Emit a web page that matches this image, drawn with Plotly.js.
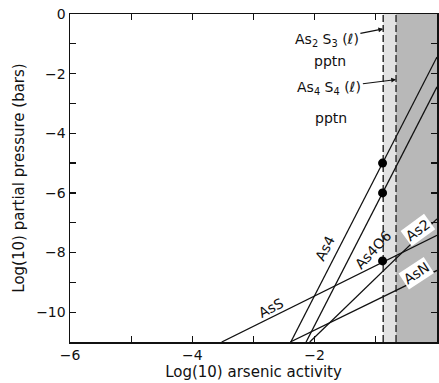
<!DOCTYPE html>
<html>
<head>
<meta charset="utf-8">
<script src="https://cdn.plot.ly/plotly-3.0.1.min.js"></script>
<style>html,body{margin:0;padding:0;background:#fff;}#chart{width:439px;height:383px;}</style>
</head>
<body>
<div id="chart"></div>
<script>
// Species lines (log10 arsenic activity vs log10 partial pressure)
const asS_x = [-3.52, 0];      const asS_y = [-11, -7.42];
const as4_x = [-2.39, 0];      const as4_y = [-11, -1.44];
const as4o6_x = [-2.14, 0];    const as4o6_y = [-11, -2.44];
const as2_x = [-2.08, 0];      const as2_y = [-11, -6.87];
const asN_x = [-2.40, 0];      const asN_y = [-11, -8.6];
// Precipitation points on As2S3(l) boundary
const dot_x = [-0.89, -0.89, -0.89];
const dot_y = [-5, -6, -8.28];
// Precipitation boundaries
const as2s3_pptn = -0.88;
const as4s4_pptn = -0.67;
const xMin = -6, xMax = 0, yMin = -11, yMax = 0;
// Tick labels
const xTickVals = [-6, -5, -4, -3, -2, -1, 0];
const xTickText = ['\u22126', ' ', '\u22124', ' ', '\u22122', ' ', '0'];
const yTickVals = [-11, -10, -9, -8, -7, -6, -5, -4, -3, -2, -1, 0];
const yTickText = [' ', '\u221210', ' ', '\u22128', ' ', '\u22126', ' ', '\u22124', ' ', '\u22122', ' ', '0'];

const FONT = 'DejaVu Sans, Verdana, sans-serif';
const lineStyle = {color: '#111', width: 1.3};

function ln(x, y, name) {
  return {x: x, y: y, mode: 'lines', type: 'scatter', line: lineStyle, name: name, showlegend: false, hoverinfo: 'skip'};
}

const traces = [
  // stippled regions
  {x: [as2s3_pptn, as4s4_pptn, as4s4_pptn, as2s3_pptn, as2s3_pptn], y: [yMin, yMin, yMax, yMax, yMin],
   type: 'scatter', mode: 'none', fill: 'toself', fillcolor: '#e2e2e2',
   showlegend: false, hoverinfo: 'skip'},
  {x: [as4s4_pptn, xMax, xMax, as4s4_pptn, as4s4_pptn], y: [yMin, yMin, yMax, yMax, yMin],
   type: 'scatter', mode: 'none', fill: 'toself', fillcolor: '#b8b8b8',
   showlegend: false, hoverinfo: 'skip'},
  // dashed boundaries
  {x: [as2s3_pptn, as2s3_pptn], y: [yMin, yMax], mode: 'lines', type: 'scatter',
   line: {color: '#111', width: 1.3, dash: '7px,3px'}, showlegend: false, hoverinfo: 'skip'},
  {x: [as4s4_pptn, as4s4_pptn], y: [yMin, yMax], mode: 'lines', type: 'scatter',
   line: {color: '#111', width: 1.2, dash: '7px,3px'}, showlegend: false, hoverinfo: 'skip'},
  ln(asS_x, asS_y, 'AsS'),
  ln(as4_x, as4_y, 'As4'),
  ln(as4o6_x, as4o6_y, 'As4O6'),
  ln(as2_x, as2_y, 'As2'),
  ln(asN_x, asN_y, 'AsN'),
  {x: dot_x, y: dot_y, mode: 'markers', type: 'scatter', marker: {color: '#000', size: 9},
   showlegend: false, hoverinfo: 'skip'}
];

const tf = {family: FONT, size: 14, color: '#111'};
const ttf = {family: FONT, size: 15, color: '#111'};
const lf = {family: FONT, size: 14, color: '#111'};

const annotations = [
  {x: as2s3_pptn, y: -0.5, ax: -1.8, ay: -0.87, axref: 'x', ayref: 'y',
   text: 'As<sub>2</sub> S<sub>3</sub> (\u2113)', showarrow: true, arrowhead: 2, arrowsize: 0.8,
   arrowwidth: 1.2, arrowcolor: '#111', standoff: 0, font: lf},
  {x: -1.75, y: -1.58, text: 'pptn', showarrow: false, font: lf},
  {x: as4s4_pptn, y: -2.2, ax: -1.76, ay: -2.48, axref: 'x', ayref: 'y',
   text: 'As<sub>4</sub> S<sub>4</sub> (\u2113)', showarrow: true, arrowhead: 2, arrowsize: 0.8,
   arrowwidth: 1.2, arrowcolor: '#111', standoff: 0, font: lf},
  {x: -1.73, y: -3.49, text: 'pptn', showarrow: false, font: lf},
  {x: -2.72, y: -9.85, text: 'AsS', textangle: -27, showarrow: false, font: lf},
  {x: -1.83, y: -7.85, text: 'As4', textangle: -63, showarrow: false, font: lf},
  {x: -1.05, y: -7.9, text: 'As4O6', textangle: -47, showarrow: false, font: lf},
  {x: -0.31, y: -7.25, text: 'As2', textangle: -36, showarrow: false, font: lf, bgcolor: '#fff'},
  {x: -0.33, y: -8.7, text: 'AsN', textangle: -33, showarrow: false, font: lf, bgcolor: '#fff'}
];

const layout = {
  width: 439, height: 383,
  margin: {l: 70, r: 2, t: 14, b: 41},
  paper_bgcolor: '#fff', plot_bgcolor: '#fff',
  font: {family: FONT, size: 14, color: '#111'},
  showlegend: false,
  xaxis: {
    range: [xMin, xMax], tickmode: 'array', tickvals: xTickVals, ticktext: xTickText,
    ticks: 'inside', ticklen: 6, tickwidth: 1.2, tickcolor: '#111',
    showline: true, linecolor: '#111', linewidth: 1.5, mirror: 'ticks',
    showgrid: false, zeroline: false, tickfont: tf,
    title: {text: 'Log(10) arsenic activity', font: ttf, standoff: 2}
  },
  yaxis: {
    range: [yMin, yMax], tickmode: 'array', tickvals: yTickVals, ticktext: yTickText,
    ticks: 'inside', ticklen: 6, tickwidth: 1.2, tickcolor: '#111',
    showline: true, linecolor: '#111', linewidth: 1.5, mirror: 'ticks',
    showgrid: false, zeroline: false, tickfont: tf,
    title: {text: 'Log(10) partial pressure (bars)', font: ttf, standoff: 8}
  },
  annotations: annotations
};

Plotly.newPlot('chart', traces, layout, {staticPlot: true, displayModeBar: false});
</script>
</body>
</html>
